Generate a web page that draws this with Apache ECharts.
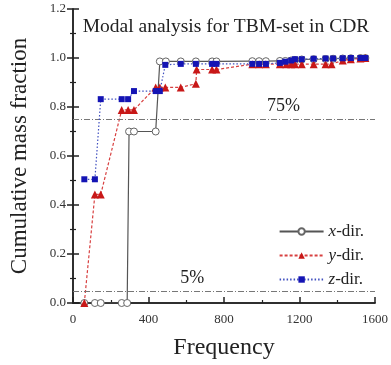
<!DOCTYPE html>
<html>
<head>
<meta charset="utf-8">
<script src="https://cdn.jsdelivr.net/npm/echarts@6/dist/echarts.min.js"></script>
<style>html,body{margin:0;padding:0;background:#fff}#c{width:391px;height:365px}</style>
</head>
<body>
<div id="c"></div>
<script>
// ---- data ----
const freqX = [60,116,147,258,287,297,323,438,460,492,571,651,737,760,950,986,1022,1096,1125,1156,1176,1212,1275,1338,1378,1429,1472,1523,1549];
const cumX  = [0,0,0,0,0,0.70,0.70,0.70,0.986,0.986,0.986,0.986,0.986,0.986,0.987,0.987,0.987,0.988,0.988,0.99,0.992,0.994,0.995,0.996,0.997,0.998,0.999,1.0,1.0];
const freqY = [60,116,147,258,292,323,438,460,489,571,651,655,737,760,950,986,1022,1096,1130,1156,1176,1212,1275,1338,1370,1429,1472,1523,1549];
const cumY  = [0,0.443,0.443,0.788,0.788,0.788,0.88,0.88,0.88,0.88,0.895,0.953,0.953,0.953,0.975,0.975,0.975,0.975,0.975,0.975,0.975,0.975,0.975,0.975,0.975,0.99,0.995,0.998,1.0];
const freqZ = [60,116,147,258,292,323,438,460,489,571,651,737,760,950,986,1022,1096,1125,1156,1176,1212,1275,1338,1378,1429,1472,1523,1549];
const cumZ  = [0.505,0.505,0.832,0.832,0.832,0.865,0.865,0.865,0.972,0.976,0.976,0.976,0.976,0.976,0.976,0.976,0.98,0.985,0.99,0.995,0.995,0.997,0.998,0.998,0.999,1.0,1.0,1.0];
const refLevels = [0.75, 0.05];
const refLabels = ['75%', '5%'];
const refLabelFreq = [1115, 632];
const seriesNames = ['x-dir.', 'y-dir.', 'z-dir.'];

const pairs = (f, c) => f.map((v, i) => [v, c[i]]);
const serif = '"Liberation Serif", "DejaVu Serif", serif';

const chart = echarts.init(document.getElementById('c'));
const axisCommon = {
  axisLine: { show: true, lineStyle: { color: '#222', width: 1.5 } },
  splitLine: { show: false },
};
chart.setOption({
  animation: false,
  backgroundColor: '#fff',
  title: {
    text: 'Modal analysis for TBM-set in CDR',
    left: 221, textAlign: 'center', top: 12,
    textStyle: { fontFamily: serif, fontSize: 19.5, fontWeight: 'normal', color: '#222' }
  },
  legend: {
    orient: 'vertical', right: 22, top: 218,
    itemWidth: 44, itemHeight: 8, itemGap: 7,
    data: seriesNames,
    formatter: n => '{i|' + n[0] + '}' + n.slice(1),
    textStyle: { fontFamily: serif, fontSize: 17, color: '#222',
      rich: { i: { fontFamily: serif, fontSize: 17, fontStyle: 'italic', color: '#222' } } }
  },
  grid: { left: 67, right: 11, top: 9, bottom: 60 },
  xAxis: [
    Object.assign({}, axisCommon, {
      type: 'value', min: 0, max: 1600, interval: 400,
      name: 'Frequency', nameLocation: 'middle', nameGap: 33,
      nameTextStyle: { fontFamily: serif, fontSize: 24, color: '#222' },
      axisTick: { show: true, inside: true, length: 6, lineStyle: { color: '#222', width: 1.5 } },
      minorTick: { show: true, splitNumber: 2, length: 3, lineStyle: { color: '#222', width: 1.2 } },
      axisLabel: { fontFamily: serif, fontSize: 13, color: '#333', margin: 10,
        formatter: v => String(v) }
    }),
    Object.assign({}, axisCommon, {
      type: 'value', min: 0, max: 1600, interval: 400, position: 'top',
      axisTick: { show: false }, axisLabel: { show: false }
    })
  ],
  yAxis: [
    Object.assign({}, axisCommon, {
      type: 'value', min: 0, max: 1.2, interval: 0.2,
      name: 'Cumulative mass fraction', nameLocation: 'middle', nameGap: 42,
      nameTextStyle: { fontFamily: serif, fontSize: 23, color: '#222' },
      axisTick: { show: true, inside: true, length: 6, lineStyle: { color: '#222', width: 1.5 } },
      minorTick: { show: true, splitNumber: 2, length: 3, lineStyle: { color: '#222', width: 1.2 } },
      axisLabel: { fontFamily: serif, fontSize: 13, color: '#333', margin: 7,
        formatter: v => v.toFixed(1) }
    }),
    Object.assign({}, axisCommon, {
      type: 'value', min: 0, max: 1.2, interval: 0.2, position: 'right',
      axisTick: { show: true, inside: true, length: 6, lineStyle: { color: '#222', width: 1.5 } },
      minorTick: { show: true, splitNumber: 2, length: 3, lineStyle: { color: '#222', width: 1.2 } },
      axisLabel: { show: false }
    })
  ],
  series: [
    {
      name: seriesNames[0], type: 'line', data: pairs(freqX, cumX), z: 3,
      symbol: 'circle', symbolSize: 7, showSymbol: true,
      lineStyle: { color: '#555', width: 1.2, type: 'solid' },
      itemStyle: { color: '#fff', borderColor: '#666', borderWidth: 1 },
      markLine: {
        silent: true, symbol: 'none',
        lineStyle: { color: '#777', width: 1, type: [6, 2, 1, 2] },
        label: { show: false },
        data: refLevels.map(v => ({ yAxis: v }))
      },
      markPoint: {
        silent: true, symbol: 'circle', symbolSize: 0,
        label: { show: true, fontFamily: serif, fontSize: 18, color: '#222',
          formatter: p => p.name, position: 'top', distance: 0 },
        data: refLevels.map((v, i) => ({ name: refLabels[i], coord: [refLabelFreq[i], v + 0.015] }))
      }
    },
    {
      name: seriesNames[1], type: 'line', data: pairs(freqY, cumY), z: 4,
      symbol: 'triangle', symbolSize: 8,
      lineStyle: { color: '#d84040', width: 1.2, type: [3, 2] },
      itemStyle: { color: '#c81818' }
    },
    {
      name: seriesNames[2], type: 'line', data: pairs(freqZ, cumZ), z: 5,
      symbol: 'rect', symbolSize: 6,
      lineStyle: { color: '#4050c0', width: 1.2, type: [1.5, 2] },
      itemStyle: { color: '#1414b4' }
    }
  ]
});
</script>
</body>
</html>
